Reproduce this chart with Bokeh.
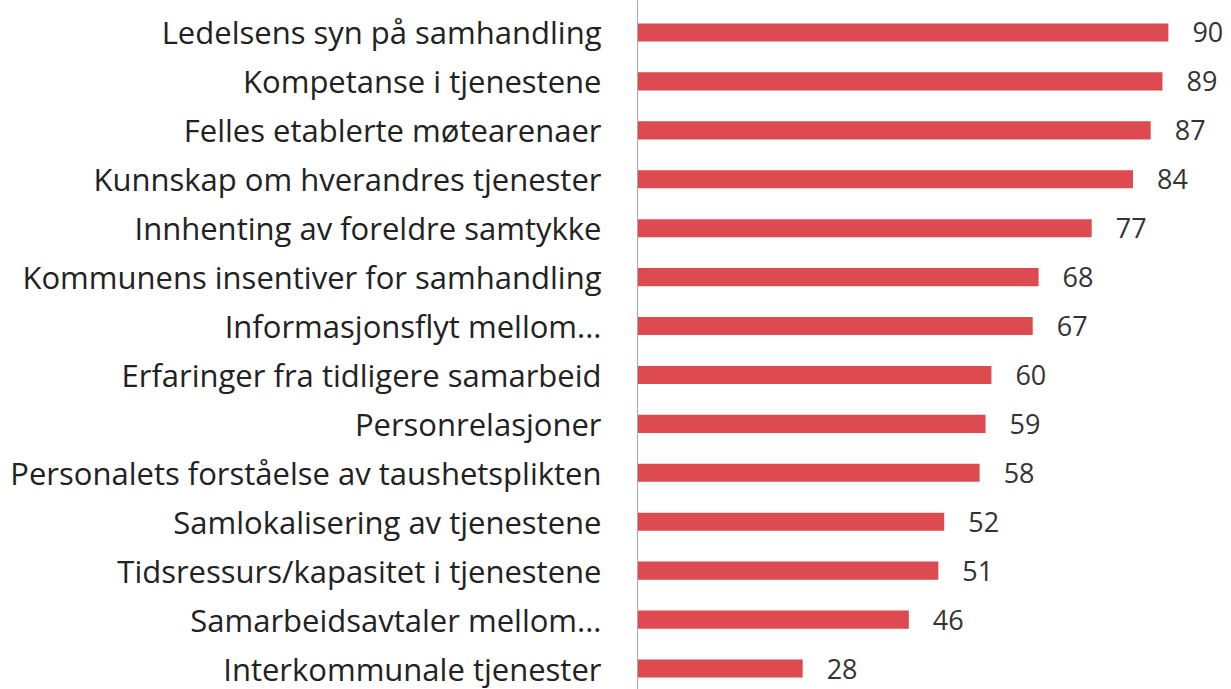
from bokeh.plotting import figure
from bokeh.models import Range1d, ColumnDataSource, LabelSet, FixedTicker
from bokeh.core.properties import value
from bokeh.embed import file_html
from bokeh.resources import INLINE

categories = [
    "Ledelsens syn på samhandling",
    "Kompetanse i tjenestene",
    "Felles etablerte møtearenaer",
    "Kunnskap om hverandres tjenester",
    "Innhenting av foreldre samtykke",
    "Kommunens insentiver for samhandling",
    "Informasjonsflyt mellom...",
    "Erfaringer fra tidligere samarbeid",
    "Personrelasjoner",
    "Personalets forståelse av taushetsplikten",
    "Samlokalisering av tjenestene",
    "Tidsressurs/kapasitet i tjenestene",
    "Samarbeidsavtaler mellom...",
    "Interkommunale tjenester",
]
values = [90, 89, 87, 84, 77, 68, 67, 60, 59, 58, 52, 51, 46, 28]

n = len(categories)
ypos = [n - 1 - i for i in range(n)]  # first category on top
src = ColumnDataSource(dict(y=ypos, val=values, lab=[str(v) for v in values]))

p = figure(width=1231, height=689, output_backend="svg", toolbar_location=None,
           y_range=Range1d(-0.429, 13.654),
           x_range=Range1d(0, 100.7),
           min_border_left=637, min_border_right=0, min_border_top=0, min_border_bottom=0)

p.hbar(y="y", right="val", left=0, height=0.37, source=src,
       fill_color="#dd4a50", line_color=None)

p.add_layout(LabelSet(x="val", y="y", text="lab", source=src, x_offset=24, y_offset=0,
                      text_baseline="middle", text_font=value("Open Sans"),
                      text_font_size="27px", text_color="#333333"))

p.xaxis.visible = False
p.xgrid.visible = False
p.ygrid.visible = False
p.outline_line_color = None
ya = p.yaxis[0]
ya.ticker = FixedTicker(ticks=ypos)
ya.major_label_overrides = {y: c for y, c in zip(ypos, categories)}
ya.axis_line_color = "#a8a8a8"
ya.axis_line_width = 1
ya.major_tick_line_color = None
ya.minor_tick_line_color = None
ya.major_label_standoff = 30
ya.major_label_text_font = "Open Sans"
ya.major_label_text_font_size = "31px"
ya.major_label_text_color = "#222222"

open("out.html", "w").write(file_html(p, INLINE))
